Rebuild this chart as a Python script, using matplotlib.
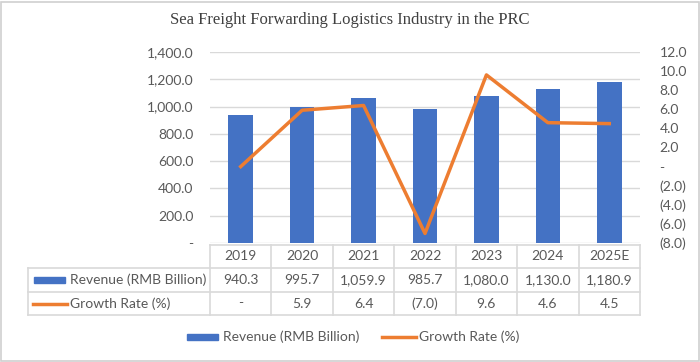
import numpy as np
import matplotlib.pyplot as plt
from matplotlib.patches import Rectangle
from matplotlib.lines import Line2D

# data
years = ['2019', '2020', '2021', '2022', '2023', '2024', '2025E']
revenue = [940.3, 995.7, 1059.9, 985.7, 1080.0, 1130.0, 1180.9]
growth = [0.0, 5.9, 6.4, -7.0, 9.6, 4.6, 4.5]
revenue_txt = ['940.3', '995.7', '1,059.9', '985.7', '1,080.0', '1,130.0', '1,180.9']
growth_txt = ['-', '5.9', '6.4', '(7.0)', '9.6', '4.6', '4.5']
rev_name = 'Revenue (RMB Billion)'
gr_name = 'Growth Rate (%)'

blue = '#4472C4'
orange = '#ED7D31'
grey = '#595959'
gridc = '#D9D9D9'
font = 'Lato'
fs = 10

W, H = 700, 362
fig = plt.figure(figsize=(7, 3.62), dpi=100)

def fx(px):
    return px / W

def fy(py):
    return 1 - py / H

# outer border
fig.add_artist(Rectangle((fx(1), fy(361)), fx(698), 359 / H, transform=fig.transFigure,
                         fill=False, edgecolor='#D0D0D0', lw=1.2))

x0, x1 = 210, 640
ytop, ybot = 52, 243
ax = fig.add_axes([fx(x0), fy(ybot), fx(x1 - x0), (ybot - ytop) / H])
x = np.arange(len(years))
ax.bar(x, revenue, width=0.4, color=blue, zorder=2)
ax.set_xlim(-0.5, len(years) - 0.5)
ax.set_ylim(0, 1400)
ax.set_yticks(np.arange(0, 1401, 200))
ax.set_yticklabels(['-'] + ['{:,.1f}'.format(v) for v in range(200, 1401, 200)])
ax.yaxis.grid(True, color=gridc, lw=1, zorder=0)
ax.set_xticks([])
for s in ax.spines.values():
    s.set_visible(False)
ax.tick_params(axis='y', length=0, pad=12, labelsize=fs, labelcolor=grey)
for t in ax.get_yticklabels():
    t.set_fontfamily(font)

ax2 = ax.twinx()
ax2.plot(x, growth, color=orange, lw=2.5, zorder=3)
ax2.set_ylim(-8, 12)
ax2.set_yticks(np.arange(-8, 13, 2))
ax2.set_yticklabels(['({:.1f})'.format(-v) if v < 0 else ('-' if v == 0 else '{:.1f}'.format(v))
                     for v in np.arange(-8, 13, 2)])
ax2.tick_params(axis='y', length=0, pad=14, labelsize=fs, labelcolor=grey)
for t in ax2.get_yticklabels():
    t.set_fontfamily(font)
for s in ax2.spines.values():
    s.set_visible(False)

fig.text(0.5, fy(20), 'Sea Freight Forwarding Logistics Industry in the PRC',
         ha='center', va='center', fontsize=12, family='Liberation Serif', color='#404040')

# data table
rows = [245, 268, 292, 315]
colw = (x1 - x0) / len(years)
lab_x = 28

def hline(y, xa, xb):
    fig.add_artist(Line2D([fx(xa), fx(xb)], [fy(y), fy(y)], color=gridc, lw=1.2))

def vline(xp, ya, yb):
    fig.add_artist(Line2D([fx(xp), fx(xp)], [fy(ya), fy(yb)], color=gridc, lw=1.2))

hline(rows[0], x0, x1)
for r in rows[1:]:
    hline(r, lab_x, x1)
for i in range(len(years) + 1):
    vline(x0 + i * colw, rows[0], rows[3])
vline(lab_x, rows[1], rows[3])

for i in range(len(years)):
    cx = fx(x0 + (i + 0.5) * colw)
    for r, txt in zip(range(3), [years[i], revenue_txt[i], growth_txt[i]]):
        fig.text(cx, fy((rows[r] + rows[r + 1]) / 2), txt, ha='center', va='center',
                 fontsize=fs, family=font, color=grey)

ymid1 = (rows[1] + rows[2]) / 2
ymid2 = (rows[2] + rows[3]) / 2
fig.add_artist(Rectangle((fx(34), fy(ymid1 + 3)), fx(31), 6 / H, transform=fig.transFigure,
                         color=blue))
fig.add_artist(Line2D([fx(33), fx(67)], [fy(ymid2), fy(ymid2)], color=orange, lw=2.5))
fig.text(fx(70), fy(ymid1), rev_name, ha='left', va='center', fontsize=fs, family=font, color=grey)
fig.text(fx(70), fy(ymid2), gr_name, ha='left', va='center', fontsize=fs, family=font, color=grey)

# legend
ly = 337
fig.add_artist(Rectangle((fx(187), fy(ly + 3)), fx(31), 6 / H, transform=fig.transFigure,
                         color=blue))
fig.text(fx(223), fy(ly), rev_name, ha='left', va='center', fontsize=fs, family=font, color=grey)
fig.add_artist(Line2D([fx(382), fx(416)], [fy(ly), fy(ly)], color=orange, lw=2.5))
fig.text(fx(419), fy(ly), gr_name, ha='left', va='center', fontsize=fs, family=font, color=grey)

fig.savefig('out.png', dpi=100)
